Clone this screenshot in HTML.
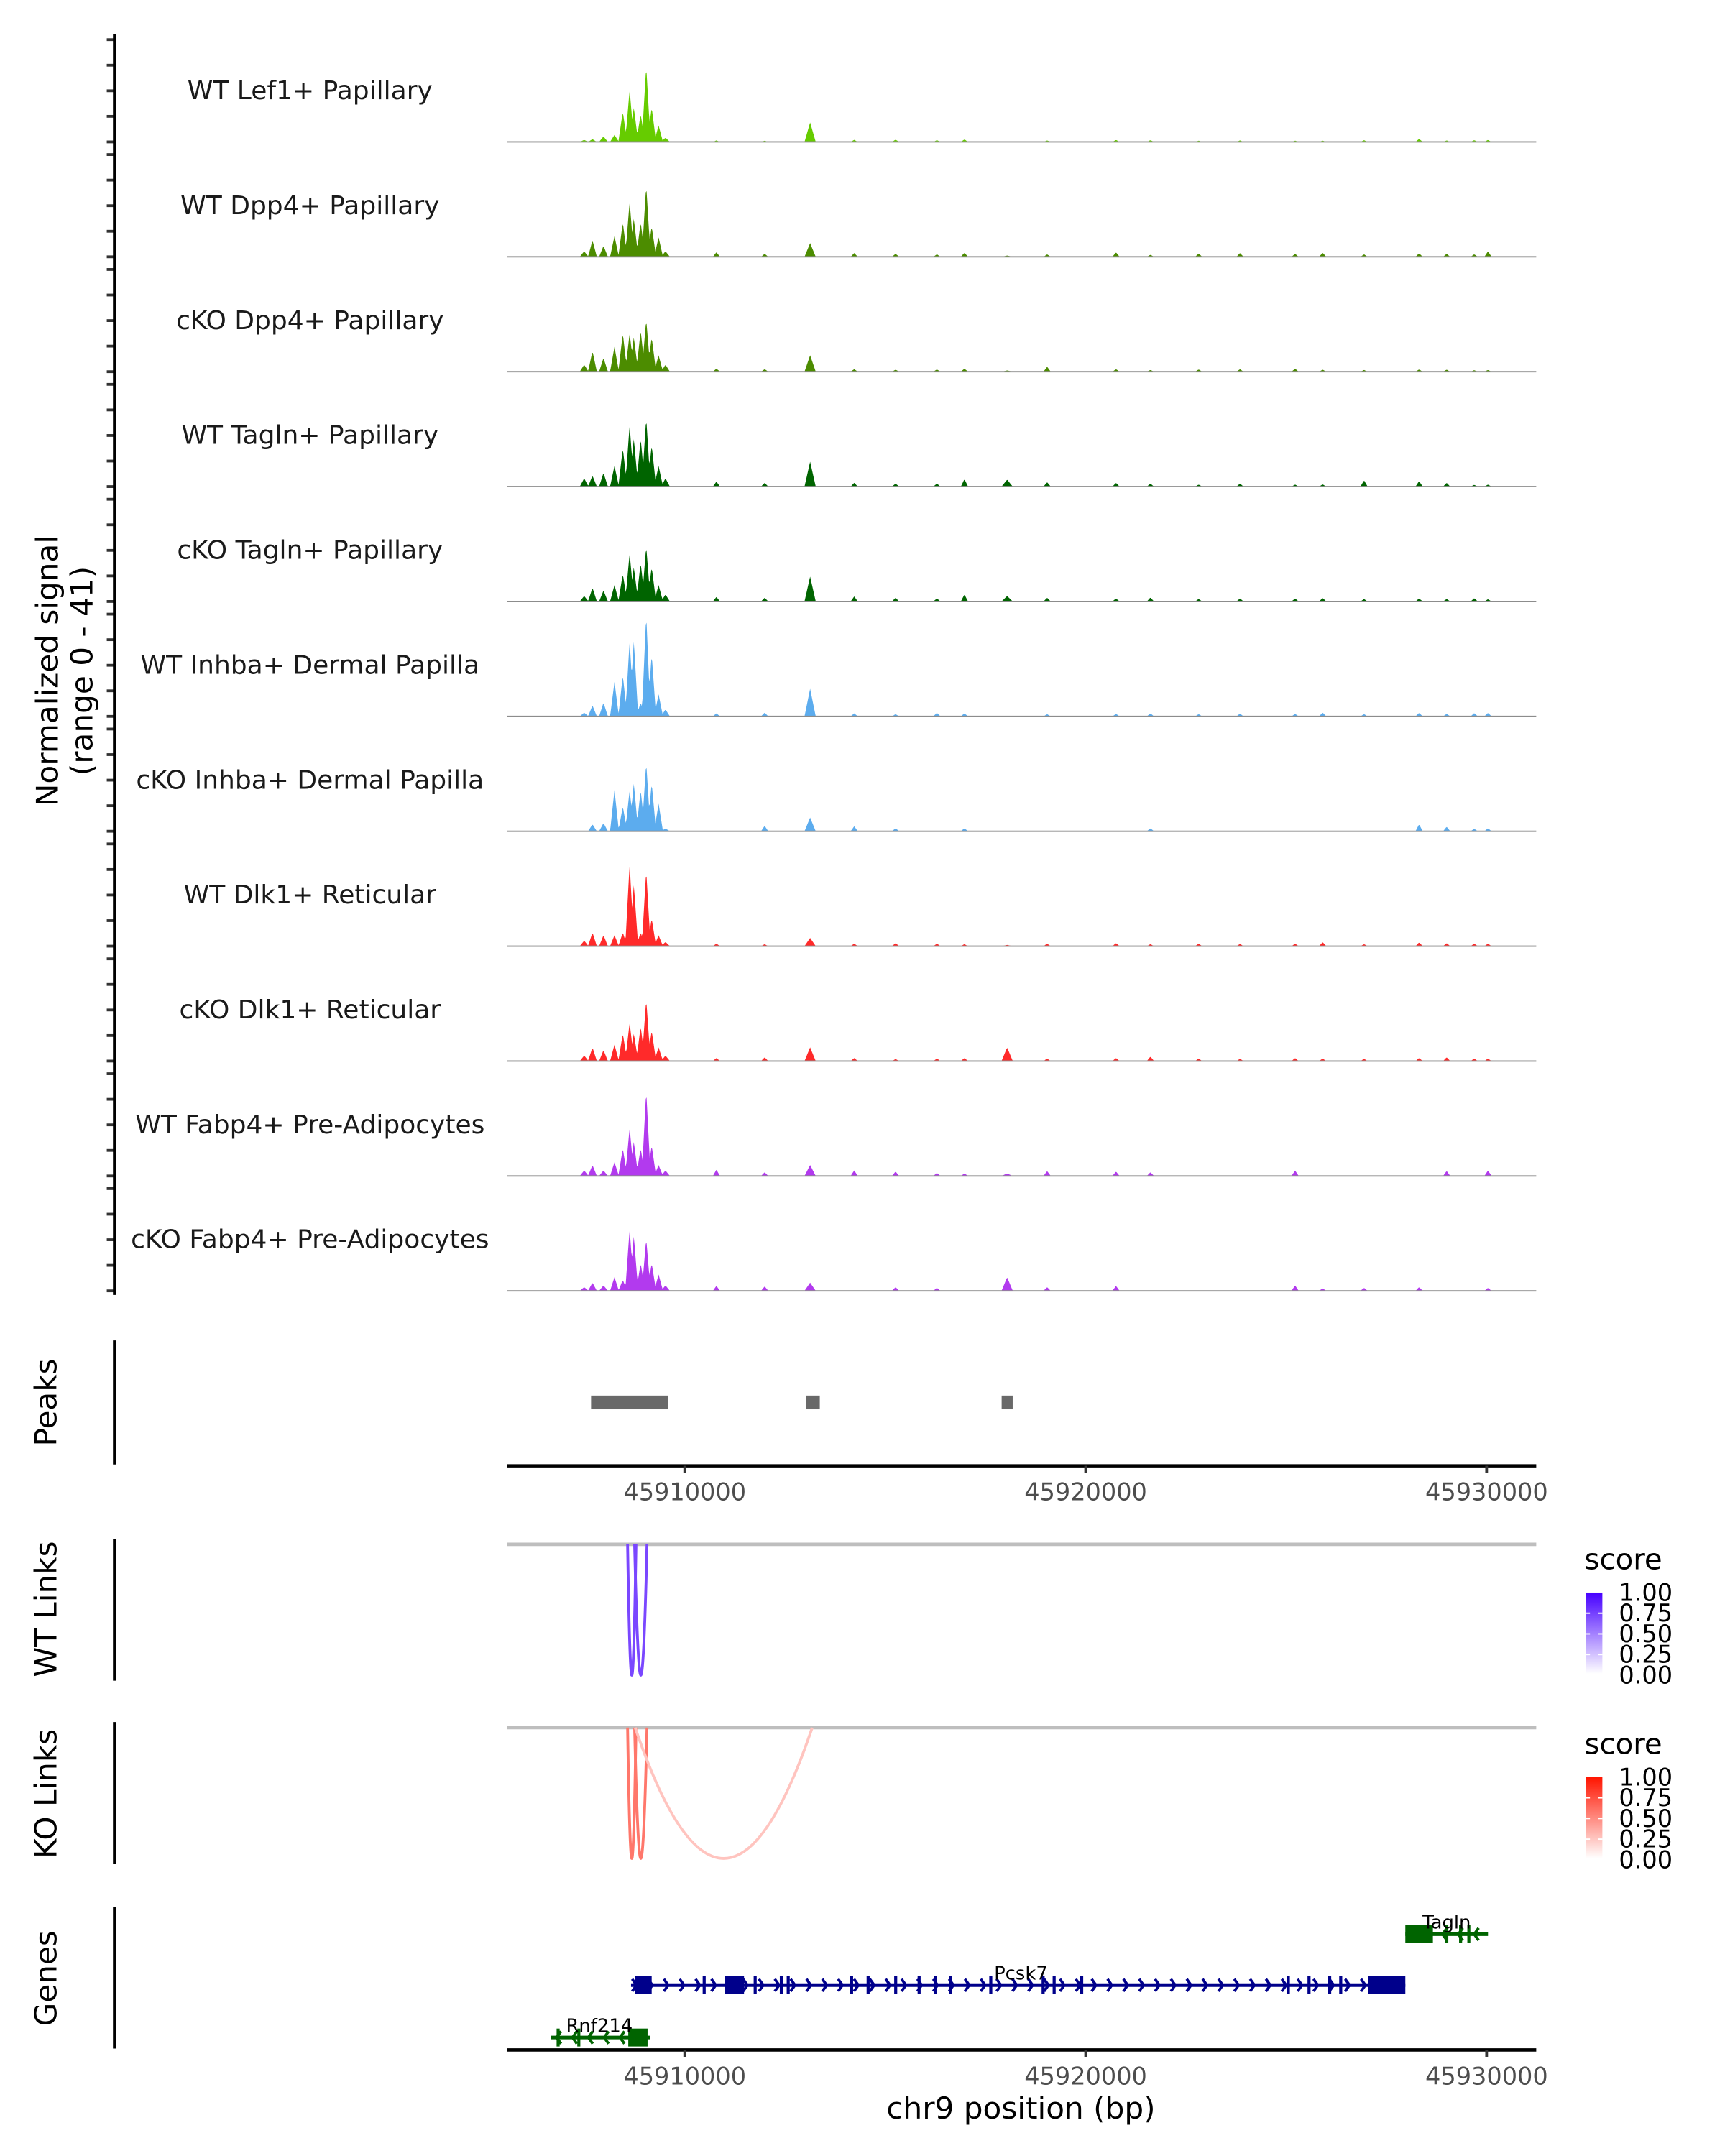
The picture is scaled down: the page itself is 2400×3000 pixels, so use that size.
<!DOCTYPE html>
<html><head><meta charset="utf-8"><title>Coverage plot chr9</title>
<style>
html,body{margin:0;padding:0;background:#fff;}
svg{display:block;font-family:"DejaVu Sans","Liberation Sans",sans-serif;}
</style></head>
<body>
<svg id="chart" xmlns="http://www.w3.org/2000/svg" width="2400" height="3000" viewBox="0 0 1252 1565">
<rect x="0" y="0" width="1252" height="1565" fill="#fff"/>
<g id="tracks"></g>
<g id="peaks"></g>
<g id="links"></g>
<g id="genes"></g>
<g id="frame"></g>
</svg>
<script>
// ---- data ----
const trackNames = ["WT Lef1+ Papillary","WT Dpp4+ Papillary","cKO Dpp4+ Papillary","WT Tagln+ Papillary","cKO Tagln+ Papillary","WT Inhba+ Dermal Papilla","cKO Inhba+ Dermal Papilla","WT Dlk1+ Reticular","cKO Dlk1+ Reticular","WT Fabp4+ Pre-Adipocytes","cKO Fabp4+ Pre-Adipocytes"];
const trackColors = ["#66CC00","#4C8C00","#4C8C00","#006400","#006400","#5CACEE","#5CACEE","#FF2A2A","#FF2A2A","#B23AEE","#B23AEE"];
const clusterPos = [45907491,45907698,45907973,45908247,45908454,45908625,45908729,45908900,45909038,45909175,45909347,45909519,45913127,45918041];
const clusterVals = [
 [0.8,1.1,2.2,2.8,12.2,21.0,13.9,11.1,30.5,13.9,6.6,1.7,7.8,0],
 [2.2,6.6,4.4,8.3,13.9,22.2,15.5,13.9,28.8,12.2,7.8,2.2,5.5,0.5],
 [2.8,8.3,5.5,10.0,15.5,15.5,13.9,16.6,21.0,13.9,6.6,2.8,6.6,0.5],
 [3.3,4.4,5.5,8.3,15.5,24.9,19.4,19.4,27.7,16.6,8.3,3.3,10.0,2.8],
 [2.2,5.5,4.4,6.6,11.1,19.4,13.9,15.5,22.2,13.9,6.6,2.8,10.0,2.2],
 [1.5,4.4,5.5,13.9,16.6,30.5,30.5,5.5,41.0,24.9,8.9,2.8,11.1,0],
 [0,2.8,3.3,16.6,10.0,16.6,19.4,16.6,27.7,19.4,11.1,1.1,5.5,0],
 [2.2,5.5,4.4,4.4,5.5,33.2,24.9,5.5,30.5,11.1,4.4,1.7,3.3,0.5],
 [2.2,5.5,4.4,6.6,11.1,15.5,11.1,13.9,24.9,12.2,5.5,2.2,5.5,5.5],
 [2.2,4.4,2.2,5.5,11.1,19.4,13.9,11.1,34.4,12.2,4.4,2.2,4.4,1.0],
 [1.5,3.3,2.2,5.5,4.4,24.9,22.2,11.1,21.0,11.1,6.6,2.2,3.3,5.5]
];
const minorPos = [45910790,45911993,45914227,45915258,45916289,45916976,45919038,45920756,45921615,45922818,45923849,45925223,45925911,45926942,45928316,45929003,45929690,45930034];
const minorVals = [
 [0.6,0.5,0.8,0.9,0.7,1.0,0.6,0.8,0.7,0.5,0.6,0.5,0.5,0.7,1.2,0.6,0.7,0.8],
 [1.8,1.2,1.5,1.2,1.0,1.6,1.0,1.8,0.8,1.3,1.5,1.2,1.6,1.0,1.4,1.2,1.0,2.2],
 [1.2,1.0,1.0,0.8,0.9,1.2,2.0,1.0,0.7,0.9,1.0,1.2,0.8,0.7,0.9,0.8,0.6,0.7],
 [2.0,1.5,1.5,1.2,1.2,3.0,1.8,1.5,1.2,0.8,1.2,0.8,0.9,2.5,2.2,1.5,0.7,0.8],
 [1.8,1.5,2.0,1.5,1.2,2.8,1.5,1.2,1.6,1.0,1.2,1.2,1.4,1.0,1.2,1.0,1.3,0.9],
 [1.2,1.5,1.2,0.9,1.4,1.2,0.9,1.0,1.2,0.9,1.1,1.0,1.5,0.9,1.4,1.0,1.3,1.4],
 [0,2.2,2.0,1.2,0,1.2,0,0,1.2,0,0,0,0,0,2.8,1.8,1.0,1.2],
 [1.0,0.8,1.0,1.2,1.0,0.8,1.0,1.2,0.8,1.0,0.9,1.0,1.6,0.8,1.5,1.2,1.0,1.0],
 [1.2,1.5,1.2,0.8,1.0,1.2,1.0,1.2,1.8,1.0,0.9,1.2,1.0,0.9,1.2,1.5,1.0,1.0],
 [2.5,1.5,2.2,1.8,1.2,1.0,2.0,1.8,1.5,0,0,2.2,0,0,0,2.0,0,2.2],
 [2.0,1.8,0,1.5,1.2,0,1.5,2.0,0,0,0,2.2,1.0,1.2,1.5,0,0,1.2]
];
const peakStarts = [45907663,45913024,45917904];
const peakEnds   = [45909588,45913368,45918179];
const xTicks = [45910000,45920000,45930000];
const wtLinkStarts = [45908574,45908749];
const wtLinkEnds   = [45908784,45909058];
const wtLinkScores = [0.72,0.72];
const koLinkStarts = [45908574,45908749,45908763];
const koLinkEnds   = [45908784,45909058,45913179];
const koLinkScores = [0.58,0.58,0.25];
const legendTicks = ["1.00","0.75","0.50","0.25","0.00"];
const geneNames  = ["Tagln","Pcsk7","Rnf214"];
const geneStarts = [45927972,45908660,45906667];
const geneEnds   = [45930034,45927972,45909141];
const geneStrand = [-1,1,-1];
const geneBigExonStarts = [[45927972],[45908763,45910997,45927044],[45908591]];
const geneBigExonEnds   = [[45928660],[45909175,45911478,45927972],[45909072]];
const geneSmallExons = [[45929003,45929347,45929553],[45910481,45911753,45912405,45912577,45914158,45914570,45915258,45915842,45916254,45916632,45917629,45918935,45919210,45919897,45925051,45925567,45926082,45926357],[45906838,45907354]];

// ---- scales ----
const X0=368, X1=1115, D0=45905567, D1=45931237;
function xs(bp){return X0+(bp-D0)/(D1-D0)*(X1-X0);}
const TH=74, YMAX=41;
function baseY(i){return 103+i*83.4;}
function ys(i,v){return baseY(i)-v/YMAX*TH;}
const NS="http://www.w3.org/2000/svg";
function mk(tag,parent,attrs){const e=document.createElementNS(NS,tag);for(const k in attrs)e.setAttribute(k,attrs[k]);parent.appendChild(e);return e;}

// ---- coverage tracks ----
const gT=document.getElementById('tracks');
function signal(t,bp){
  let v=0;
  for(let j=0;j<clusterPos.length;j++){const hw=j<12?110:140;const d=Math.abs(bp-clusterPos[j]);if(d<hw){v=Math.max(v,clusterVals[t][j]*(1-d/hw));}}
  for(let j=0;j<minorPos.length;j++){const hw=90;const d=Math.abs(bp-minorPos[j]);if(d<hw){v=Math.max(v,minorVals[t][j]*(1-d/hw));}}
  return v;
}
trackNames.forEach((name,i)=>{
  const g=mk('g',gT,{});
  
  
  const lab=mk('text',g,{x:225,y:baseY(i)-31,'text-anchor':'middle','font-size':18.8,fill:'#1a1a1a'});
  lab.textContent=name;
  
  
  let d='M'+xs(D0+100)+','+baseY(i);
  const step=20;
  for(let bp=D0+100;bp<=D1-200;bp+=step){d+=' L'+xs(bp).toFixed(2)+','+ys(i,signal(i,bp)).toFixed(2);}
  d+=' L'+xs(D1-200)+','+baseY(i)+' Z';
  const a=mk('path',g,{d:d,fill:trackColors[i],stroke:'none'});
  
  
  const bl=mk('line',g,{x1:X0,x2:X1,y1:baseY(i),y2:baseY(i),stroke:'#8c8c8c','stroke-width':1});
  
  
  for(let k=0;k<5;k++){
    const ty=baseY(i)-k*18.55;
    const tk=mk('line',gT,{x1:77.5,x2:83,y1:ty,y2:ty,stroke:'#333','stroke-width':2});
    
    
  }
});

// ---- frame / axes ----
const gF=document.getElementById('frame');
function vline(y1,y2,name){const l=mk('line',gF,{x1:83,x2:83,y1:y1,y2:y2,stroke:'#000','stroke-width':2});}
vline(25,940,'signal-y-axis');vline(973,1063,'peaks-y-axis');vline(1117,1220,'wt-links-y-axis');vline(1250,1353,'ko-links-y-axis');vline(1384,1487,'genes-y-axis');
function rtext(x,y,txt,name){const t=mk('text',gF,{x:0,y:0,transform:'translate('+x+','+y+') rotate(-90)','text-anchor':'middle','font-size':22,fill:'#000'});t.textContent=txt;}
rtext(42,487,'Normalized signal','y-axis-title');
rtext(67,487,'(range 0 - 41)','y-axis-subtitle');
rtext(41,1018,'Peaks','peaks-title');
rtext(41,1168,'WT Links','wt-links-title');
rtext(41,1302,'KO Links','ko-links-title');
rtext(41,1436,'Genes','genes-title');
function xaxis(y,name){
  const g=mk('g',gF,{});
  mk('line',g,{x1:X0,x2:X1,y1:y,y2:y,stroke:'#000','stroke-width':2.4});
  xTicks.forEach(v=>{
    const tk=mk('line',g,{x1:xs(v),x2:xs(v),y1:y,y2:y+5,stroke:'#333','stroke-width':2});
    
    const t=mk('text',g,{x:xs(v),y:y+25,'text-anchor':'middle','font-size':17.5,fill:'#4d4d4d'});t.textContent=v;
    
  });
}
xaxis(1064,'peaks-x-axis');xaxis(1488,'genes-x-axis');
const xt=mk('text',gF,{x:741,y:1538,'text-anchor':'middle','font-size':22,fill:'#000'});xt.textContent='chr9 position (bp)';


// ---- peaks ----
const gP=document.getElementById('peaks');
peakStarts.forEach((s,i)=>{const r=mk('rect',gP,{x:xs(s),y:1013,width:xs(peakEnds[i])-xs(s),height:10,fill:'#696969'});});

// ---- links ----
const gL=document.getElementById('links');
function blend(c,s){return 'rgb('+Math.round(255+(c[0]-255)*s)+','+Math.round(255+(c[1]-255)*s)+','+Math.round(255+(c[2]-255)*s)+')';}
function linkPanel(top,bot,starts,ends,scores,col,name,ly,gid){
  const g=mk('g',gL,{});
  const gl=mk('line',g,{x1:X0,x2:X1,y1:top,y2:top,stroke:'#bebebe','stroke-width':2.5});
  
  starts.forEach((s,i)=>{
    const a=xs(s),b=xs(ends[i]),m=(a+b)/2;
    const p=mk('path',g,{d:'M'+a+','+top+' Q'+m+','+(top+2*(bot-top))+' '+b+','+top,fill:'none',stroke:blend(col,scores[i]),'stroke-width':2});
    
  });
  const lg=mk('g',g,{});
  const defs=mk('defs',lg,{});const gr=mk('linearGradient',defs,{id:gid,x1:0,y1:0,x2:0,y2:1});
  mk('stop',gr,{offset:0,'stop-color':blend(col,1)});mk('stop',gr,{offset:1,'stop-color':'#fff'});
  const st=mk('text',lg,{x:1150,y:ly,'font-size':21,fill:'#000'});st.textContent='score';
  mk('rect',lg,{x:1151,y:ly+17,width:12,height:59,fill:'url(#'+gid+')'});
  legendTicks.forEach((t,k)=>{
    const yy=ly+17+k*15;
    if(k>0&&k<4){mk('line',lg,{x1:1151,x2:1154,y1:yy,y2:yy,stroke:'#fff','stroke-width':1});mk('line',lg,{x1:1160,x2:1163,y1:yy,y2:yy,stroke:'#fff','stroke-width':1});}
    const tt=mk('text',lg,{x:1175,y:yy+6,'font-size':17.5,fill:'#000'});tt.textContent=t;
  });
}
linkPanel(1121,1216,wtLinkStarts,wtLinkEnds,wtLinkScores,[70,0,255],'wt-links-panel',1139,'gradWT');
linkPanel(1254,1349,koLinkStarts,koLinkEnds,koLinkScores,[255,20,0],'ko-links-panel',1273,'gradKO');

// ---- genes ----
const gG=document.getElementById('genes');
const geneY=[1404,1441,1479];
const geneCol=["#006400","#00008B","#006400"];
geneNames.forEach((n,i)=>{
  const g=mk('g',gG,{});
  const y=geneY[i],c=geneCol[i];
  mk('line',g,{x1:xs(geneStarts[i]),x2:xs(geneEnds[i]),y1:y,y2:y,stroke:c,'stroke-width':2.6});
  for(let p=xs(geneStarts[i])+4;p<xs(geneEnds[i]);p+=11.5){
    const dx=geneStrand[i]*3.2;
    mk('path',g,{d:'M'+(p-dx)+','+(y-4.5)+' L'+p+','+y+' L'+(p-dx)+','+(y+4.5),fill:'none',stroke:c,'stroke-width':2});
  }
  geneBigExonStarts[i].forEach((s,k)=>{mk('rect',g,{x:xs(s),y:y-6.5,width:xs(geneBigExonEnds[i][k])-xs(s),height:13,fill:c});});
  geneSmallExons[i].forEach(s=>{mk('rect',g,{x:xs(s)-1,y:y-6.5,width:2.2,height:13,fill:c});});
  const lx=i===1?741:(i===0?1050:435);
  const t=mk('text',g,{x:lx,y:y-4,'text-anchor':'middle','font-size':13.5,fill:'#000'});t.textContent=n;
  
});
</script>
</body></html>
